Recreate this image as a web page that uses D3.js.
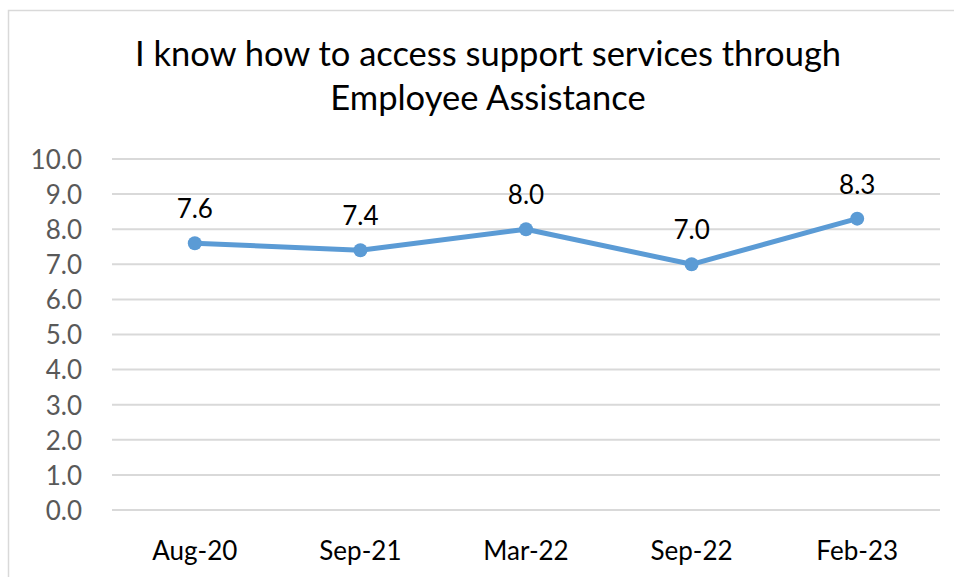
<!DOCTYPE html>
<html>
  <head>
    <meta charset="utf-8">
    <title>Employee Assistance</title>
    <style>
      body { margin: 0; background: #fff; }
      svg text { font-family: Lato, "Open Sans", sans-serif; }
    </style>
  </head>
  <body>
    <script src="https://d3js.org/d3.v7.min.js"></script>
    <script>
    // datos
    var categories = ["Aug-20", "Sep-21", "Mar-22", "Sep-22", "Feb-23"];
    var values = [7.6, 7.4, 8.0, 7.0, 8.3];
    var yTicks = [0, 1, 2, 3, 4, 5, 6, 7, 8, 9, 10];
    var titleLines = ["I know how to access support services through", "Employee Assistance"];

    var width = 954, height = 577;
    var margin = {left: 112, right: 14, top: 159, bottom: 67};

    var svg = d3.select("body").append("svg")
      .attr("width", width)
      .attr("height", height);

    // marco del grafico
    svg.append("rect")
      .attr("x", 8.5).attr("y", 10.5)
      .attr("width", width + 20).attr("height", height + 20)
      .attr("fill", "#fff")
      .attr("stroke", "#d9d9d9")
      .attr("stroke-width", 1.5);

    var x = d3.scaleBand()
      .domain(categories)
      .range([margin.left, width - margin.right]);

    var y = d3.scaleLinear()
      .domain([0, 10])
      .range([height - margin.bottom, margin.top]);

    // titulo
    svg.append("text")
      .attr("text-anchor", "middle")
      .attr("font-size", 34.5)
      .attr("fill", "#000")
      .selectAll("tspan")
      .data(titleLines)
      .enter().append("tspan")
      .attr("x", 488)
      .attr("y", function(d, i) { return 66 + i * 44; })
      .text(function(d) { return d; });

    // rejilla
    svg.append("g")
      .selectAll("line")
      .data(yTicks)
      .enter().append("line")
      .attr("x1", margin.left).attr("x2", width - margin.right)
      .attr("y1", function(d) { return y(d); })
      .attr("y2", function(d) { return y(d); })
      .attr("stroke", "#d9d9d9")
      .attr("stroke-width", 2);

    // eje y
    var yAxis = svg.append("g")
      .attr("transform", "translate(" + (margin.left - 30) + ",0)")
      .call(d3.axisLeft(y).tickValues(yTicks).tickFormat(d3.format(".1f")).tickSize(0).tickPadding(0));
    yAxis.select(".domain").remove();
    yAxis.selectAll("text")
      .attr("font-size", 26)
      .attr("fill", "#595959")
      .attr("dy", "0.36em");

    // eje x
    var xAxis = svg.append("g")
      .attr("transform", "translate(0," + y(0) + ")")
      .call(d3.axisBottom(x).tickSize(0).tickPadding(0));
    xAxis.select(".domain").remove();
    xAxis.selectAll("text")
      .attr("font-size", 26)
      .attr("fill", "#000")
      .attr("dy", 0)
      .attr("y", 50);

    var cx = function(d, i) { return x(categories[i]) + x.bandwidth() / 2; };

    // linea
    var line = d3.line()
      .x(function(d, i) { return cx(d, i); })
      .y(function(d) { return y(d); });

    svg.append("path")
      .datum(values)
      .attr("d", line)
      .attr("fill", "none")
      .attr("stroke", "#5b9bd5")
      .attr("stroke-width", 5)
      .attr("stroke-linejoin", "round")
      .attr("stroke-linecap", "round");

    svg.append("g")
      .selectAll("circle")
      .data(values)
      .enter().append("circle")
      .attr("cx", cx)
      .attr("cy", function(d) { return y(d); })
      .attr("r", 7)
      .attr("fill", "#5b9bd5");

    // etiquetas de datos
    svg.append("g")
      .selectAll("text")
      .data(values)
      .enter().append("text")
      .attr("x", cx)
      .attr("y", function(d) { return y(d) - 25; })
      .attr("text-anchor", "middle")
      .attr("font-size", 26)
      .attr("fill", "#000")
      .text(function(d) { return d3.format(".1f")(d); });
    </script>
  </body>
</html>
